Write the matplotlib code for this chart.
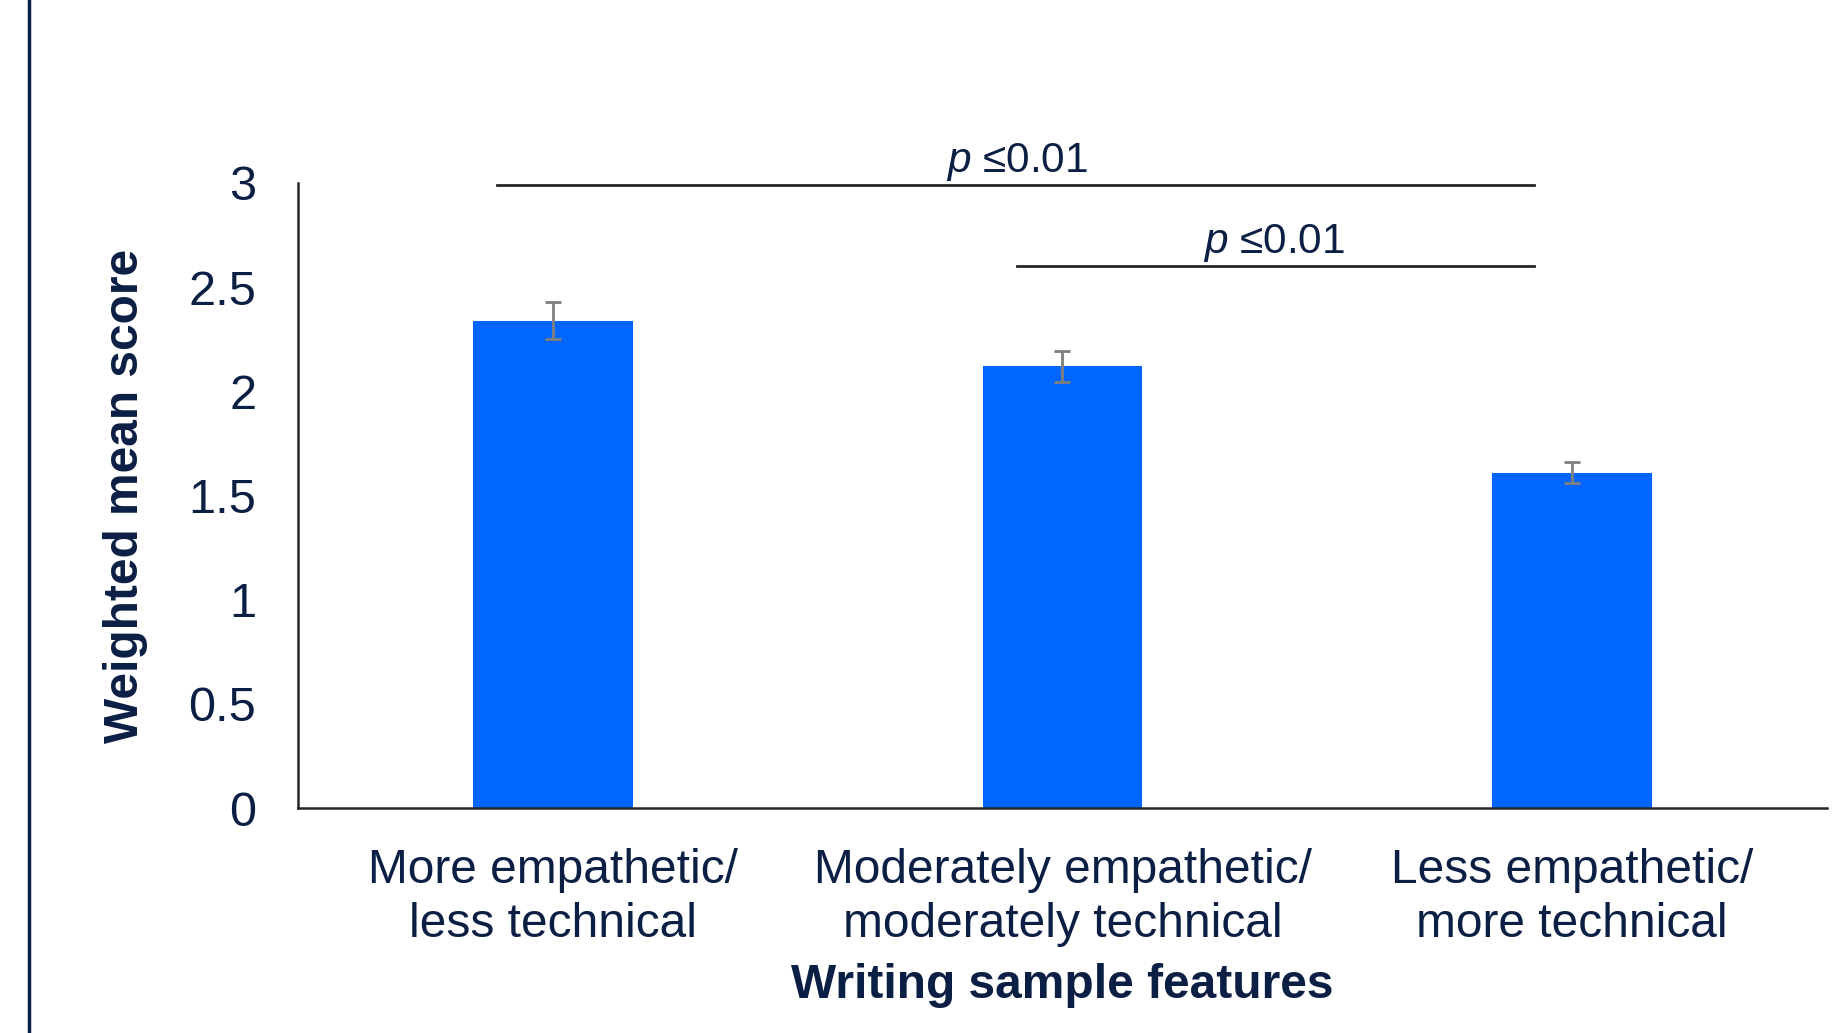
import matplotlib
matplotlib.use("Agg")
import matplotlib.pyplot as plt
from matplotlib.lines import Line2D

categories = ["More empathetic/\nless technical",
              "Moderately empathetic/\nmoderately technical",
              "Less empathetic/\nmore technical"]
means = [2.34, 2.12, 1.61]
errors = [0.09, 0.075, 0.052]
yticks = [0, 0.5, 1, 1.5, 2, 2.5, 3]
ytick_labels = ["0", "0.5", "1", "1.5", "2", "2.5", "3"]
# (x start, x end, line y, text x, text y)
sig_brackets = [(-0.11, 1.925, 2.99, 0.91, 3.10), (0.91, 1.925, 2.60, 1.415, 2.71)]
sig_text = "$\\it{p}$ \u22640.01"

navy = "#0B1F45"
plt.rcParams['font.family'] = ['Liberation Sans', 'DejaVu Sans']
plt.rcParams['mathtext.fontset'] = 'custom'
plt.rcParams['mathtext.it'] = 'Liberation Sans:italic'
plt.rcParams['mathtext.rm'] = 'Liberation Sans'

fig = plt.figure(figsize=(18.49, 10.33), dpi=100)
ax = fig.add_axes([298/1849, 1-808/1033, (1827-298)/1849, (808-183)/1033])

x = list(range(len(categories)))
ax.bar(x, means, width=0.313, color="#0066FF", zorder=2)
ax.errorbar(x, means, yerr=errors, fmt='none', ecolor="#7F7F7F",
            elinewidth=2, capsize=6, capthick=2, zorder=3)

ax.set_xlim(-0.5, 2.5)
ax.set_ylim(0, 3)
ax.set_yticks(yticks)
ax.set_yticklabels(ytick_labels)
ax.set_xticks(x)
ax.set_xticklabels(categories, linespacing=1.25)
ax.tick_params(axis='y', length=0, pad=30, labelsize=35, labelcolor=navy)
ax.tick_params(axis='x', length=0, pad=29, labelsize=34.5, labelcolor=navy)

for s in ["top", "right"]:
    ax.spines[s].set_visible(False)
for s in ["left", "bottom"]:
    ax.spines[s].set_color("#262626")
    ax.spines[s].set_linewidth(1.8)

ax.set_ylabel("Weighted mean score", fontsize=34.5, fontweight='bold', color=navy)
ax.yaxis.set_label_coords((126-298)/(1827-298), 0.5)
ax.yaxis.label.set_va('center')
ax.set_xlabel("Writing sample features", fontsize=34.5, fontweight='bold', color=navy)
ax.xaxis.set_label_coords(0.5, (808-986)/625)
ax.xaxis.label.set_va('center')

for x0, x1, yl, tx, ty in sig_brackets:
    ax.plot([x0, x1], [yl, yl], color="#262626", lw=2, clip_on=False, zorder=4)
    ax.text(tx, ty, sig_text, ha='center', va='center', fontsize=30.5,
            color=navy, clip_on=False)

fig.add_artist(Line2D([29/1849, 29/1849], [0, 1], transform=fig.transFigure,
                      color=navy, lw=2.5))

fig.savefig("out.png", dpi=100, facecolor="white")
